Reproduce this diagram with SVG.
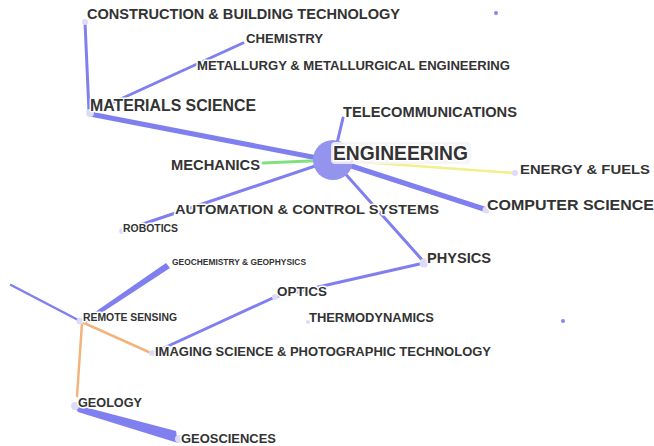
<svg xmlns="http://www.w3.org/2000/svg" width="654" height="446" viewBox="0 0 654 446">
  <style>
    .lbl { font-family: "Liberation Sans", Arial, sans-serif; font-weight: bold; fill: #333; stroke: #fff; stroke-width: 3; stroke-linejoin: round; paint-order: stroke; }
    .e { fill: none; stroke-linecap: round; }
    .blue { stroke: #7f7ff0; }
    .green { stroke: #80e080; }
    .yellow { stroke: #f2f08a; }
    .orange { stroke: #f2b47c; }
    .pt { fill: #dcdcf8; }
    .dot { fill: #8686ec; }
  </style>

  <g id="connectors">
    <line class="e blue" x1="85" y1="22" x2="89" y2="112" stroke-width="3"/>
    <line class="e blue" x1="243" y1="43" x2="90" y2="113" stroke-width="3"/>
    <line class="e blue" x1="90" y1="114" x2="333" y2="161" stroke-width="5"/>
    <line class="e blue" x1="343" y1="118" x2="333" y2="160" stroke-width="3"/>
    <line class="e green" x1="263" y1="163" x2="333" y2="160" stroke-width="3"/>
    <line class="e yellow" x1="333" y1="160" x2="514" y2="173" stroke-width="2.5"/>
    <line class="e blue" x1="333" y1="160" x2="484" y2="209" stroke-width="5"/>
    <line class="e blue" x1="333" y1="160" x2="122" y2="231" stroke-width="3"/>
    <line class="e blue" x1="333" y1="160" x2="424" y2="262" stroke-width="3"/>
    <line class="e blue" x1="424" y1="263" x2="274" y2="297" stroke-width="3"/>
    <line class="e blue" x1="275" y1="297" x2="153" y2="353" stroke-width="3"/>
    <line class="e blue" x1="11" y1="285" x2="80" y2="321" stroke-width="2.5"/>
    <polygon fill="#7f7ff0" points="82,321 166,263 170,268 86,323"/>
    <line class="e orange" x1="84" y1="323" x2="151" y2="353" stroke-width="2.5"/>
    <line class="e orange" x1="82" y1="323" x2="77" y2="396" stroke-width="2.5"/>
    <polygon fill="#7f7ff0" points="73,404 176,431 178,443 78,412"/>
  </g>

  <g id="engineering">
    <circle cx="333" cy="160" r="20" fill="#9494ee"/>
    <rect x="331" y="142" width="140" height="22" rx="4" fill="#f4f4f8" opacity="0.85"/>
    <text class="lbl" x="333" y="160" font-size="20" textLength="135" lengthAdjust="spacingAndGlyphs">ENGINEERING</text>
  </g>
  <g id="construction">
    <circle class="pt" cx="85" cy="22" r="3"/>
    <text class="lbl" x="87" y="19" font-size="15" textLength="313" lengthAdjust="spacingAndGlyphs">CONSTRUCTION &amp; BUILDING TECHNOLOGY</text>
  </g>
  <g id="chemistry">
    <text class="lbl" x="246" y="43" font-size="12.5" textLength="77" lengthAdjust="spacingAndGlyphs">CHEMISTRY</text>
  </g>
  <g id="metallurgy">
    <text class="lbl" x="197" y="70" font-size="12.5" textLength="313" lengthAdjust="spacingAndGlyphs">METALLURGY &amp; METALLURGICAL ENGINEERING</text>
  </g>
  <g id="materials-science">
    <circle class="pt" cx="90" cy="113" r="4"/>
    <text class="lbl" x="90" y="111" font-size="16" textLength="166" lengthAdjust="spacingAndGlyphs">MATERIALS SCIENCE</text>
  </g>
  <g id="telecommunications">
    <text class="lbl" x="343" y="117" font-size="14" textLength="174" lengthAdjust="spacingAndGlyphs">TELECOMMUNICATIONS</text>
  </g>
  <g id="mechanics">
    <text class="lbl" x="171" y="170" font-size="14" textLength="89" lengthAdjust="spacingAndGlyphs">MECHANICS</text>
  </g>
  <g id="energy-fuels">
    <circle class="pt" cx="515" cy="173" r="3"/>
    <text class="lbl" x="520" y="174" font-size="13.5" textLength="130" lengthAdjust="spacingAndGlyphs">ENERGY &amp; FUELS</text>
  </g>
  <g id="computer-science">
    <circle class="pt" cx="486" cy="210" r="3.5"/>
    <text class="lbl" x="487" y="210" font-size="15.5" textLength="167" lengthAdjust="spacingAndGlyphs">COMPUTER SCIENCE</text>
  </g>
  <g id="automation">
    <text class="lbl" x="175" y="214" font-size="13.5" textLength="264" lengthAdjust="spacingAndGlyphs">AUTOMATION &amp; CONTROL SYSTEMS</text>
  </g>
  <g id="robotics">
    <circle class="pt" cx="122" cy="231" r="3"/>
    <text class="lbl" x="123" y="232" font-size="10.5" textLength="55" lengthAdjust="spacingAndGlyphs">ROBOTICS</text>
  </g>
  <g id="physics">
    <circle class="pt" cx="424" cy="263" r="4.5"/>
    <text class="lbl" x="427" y="263" font-size="14.5" textLength="64" lengthAdjust="spacingAndGlyphs">PHYSICS</text>
  </g>
  <g id="geochemistry">
    <text class="lbl" x="172" y="265" font-size="9" textLength="134" lengthAdjust="spacingAndGlyphs">GEOCHEMISTRY &amp; GEOPHYSICS</text>
  </g>
  <g id="optics">
    <circle class="pt" cx="275" cy="297" r="3"/>
    <text class="lbl" x="277" y="296" font-size="12.5" textLength="50" lengthAdjust="spacingAndGlyphs">OPTICS</text>
  </g>
  <g id="remote-sensing">
    <circle class="pt" cx="80" cy="321" r="3.5"/>
    <text class="lbl" x="83" y="321" font-size="10.5" textLength="94" lengthAdjust="spacingAndGlyphs">REMOTE SENSING</text>
  </g>
  <g id="thermodynamics">
    <circle class="pt" cx="308" cy="322" r="2"/>
    <text class="lbl" x="309" y="322" font-size="13" textLength="125" lengthAdjust="spacingAndGlyphs">THERMODYNAMICS</text>
  </g>
  <g id="imaging">
    <circle class="pt" cx="152" cy="353" r="3"/>
    <text class="lbl" x="155" y="356" font-size="13" textLength="336" lengthAdjust="spacingAndGlyphs">IMAGING SCIENCE &amp; PHOTOGRAPHIC TECHNOLOGY</text>
  </g>
  <g id="geology">
    <circle class="pt" cx="75" cy="406" r="4"/>
    <text class="lbl" x="78" y="407" font-size="13" textLength="64" lengthAdjust="spacingAndGlyphs">GEOLOGY</text>
  </g>
  <g id="geosciences">
    <circle class="pt" cx="179" cy="439" r="4"/>
    <text class="lbl" x="181" y="443" font-size="13" textLength="95" lengthAdjust="spacingAndGlyphs">GEOSCIENCES</text>
  </g>
  <g id="isolated-1">
    <circle class="dot" cx="496" cy="13" r="2"/>
  </g>
  <g id="isolated-2">
    <circle class="dot" cx="563" cy="321" r="2"/>
  </g>
</svg>
